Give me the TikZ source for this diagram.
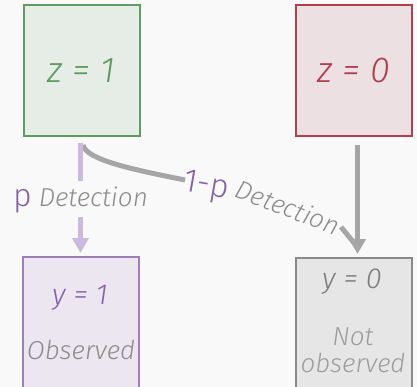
\documentclass[tikz,border=0pt]{standalone}
\usepackage{fontspec}
\setmainfont{Fira Sans}[UprightFont=* Light, ItalicFont=* Light Italic]
\usetikzlibrary{arrows.meta}
\usetikzlibrary{positioning}
\tikzset{>={Triangle[width=16pt,length=15pt]}}
\usepackage{xcolor}
\definecolor{bgcol}{HTML}{F9F9F9}
\definecolor{zgreen}{HTML}{5E9C60}
\definecolor{zgreenbg}{HTML}{E5EDE6}
\definecolor{zred}{HTML}{B0404F}
\definecolor{zredbg}{HTML}{EDE0E3}
\definecolor{ypurple}{HTML}{9D7FB8}
\definecolor{ypurplebg}{HTML}{EBE6F0}
\definecolor{ygray}{HTML}{8A8A8A}
\definecolor{ygraybg}{HTML}{E6E6E6}
\definecolor{ptext}{HTML}{8462A8}
\definecolor{plink}{HTML}{CBBADF}
\definecolor{glink}{HTML}{A6A6A6}
\definecolor{lbltext}{HTML}{8C8C8C}

\begin{document}
\begin{tikzpicture}[x=1pt, y=-1pt,
    box/.style={draw, line width=2pt, minimum width=116pt, minimum height=131pt, inner sep=0pt},
    ztxt/.style={font=\itshape\fontsize{36}{36}\selectfont},
    ytxt/.style={font=\itshape\fontsize{29}{29}\selectfont},
    obstxt/.style={font=\itshape\fontsize{26}{27}\selectfont, text=lbltext, align=center},
    detlbl/.style={font=\itshape\fontsize{26}{26}\selectfont, text=lbltext, inner sep=1pt},
    plinkstyle/.style={plink, line width=5pt},
    glinkstyle/.style={glink, line width=5pt}]

    \fill[bgcol] (0,0) rectangle (417,387);
    \useasboundingbox (0,0) rectangle (417,387);

    % states
    \node[box, draw=zgreen, fill=zgreenbg, ztxt, text=zgreen] (zone) at (81.5,71) {z = 1};
    \node[box, draw=zred, fill=zredbg, ztxt, text=zred] (zzero) at (354,71) {z = 0};
    \node[box, draw=ypurple, fill=ypurplebg, minimum height=136pt] (yone) at (81,325) {};
    \node[box, draw=ygray, fill=ygraybg, minimum height=136pt] (yzero) at (354,326) {};

    % observations
    \node[ytxt, text=ptext] (yonetxt) at (80,298) {y = 1};
    \node[obstxt] (obs) at (81,350) {Observed};
    \node[ytxt, text=ygray!90!black] (yzerotxt) at (352,282) {y = 0};
    \node[obstxt, text=lbltext!85!white] (notobs) at (353,350) {Not\\observed};

    % detection
    \coordinate (pstart) at (80.5,143);
    \coordinate (gstart) at (83,145);
    \coordinate (gbend) at (185,180);
    \coordinate (gresume) at (341,227);
    \coordinate (gend) at (355,244);
    \coordinate (rstart) at (357.5,145);

    \draw[glinkstyle] (gstart) .. controls (86,160) and (135,170) .. (gbend)
        (gresume) -- (gend);
    \draw[plinkstyle, ->, shorten >=3pt] (pstart) -- node[fill=bgcol, inner sep=0pt, minimum height=36pt] (plbl)
        {{\color{ptext}\upshape\fontsize{32}{32}\selectfont p}\hspace{7pt}{\color{lbltext}\itshape\fontsize{26}{26}\selectfont Detection}}
        (pstart |- yone.north);
    \draw[glinkstyle, ->, shorten >=3pt] (rstart) -- (rstart |- yzero.north);

    \node[text=ptext, font=\fontsize{33}{33}\selectfont, rotate=-10, inner sep=0pt] (onemp) at (206,187) {1-p};
    \node[detlbl, rotate=-21] (gdet) at (288,207) {Detection};
\end{tikzpicture}
\end{document}
